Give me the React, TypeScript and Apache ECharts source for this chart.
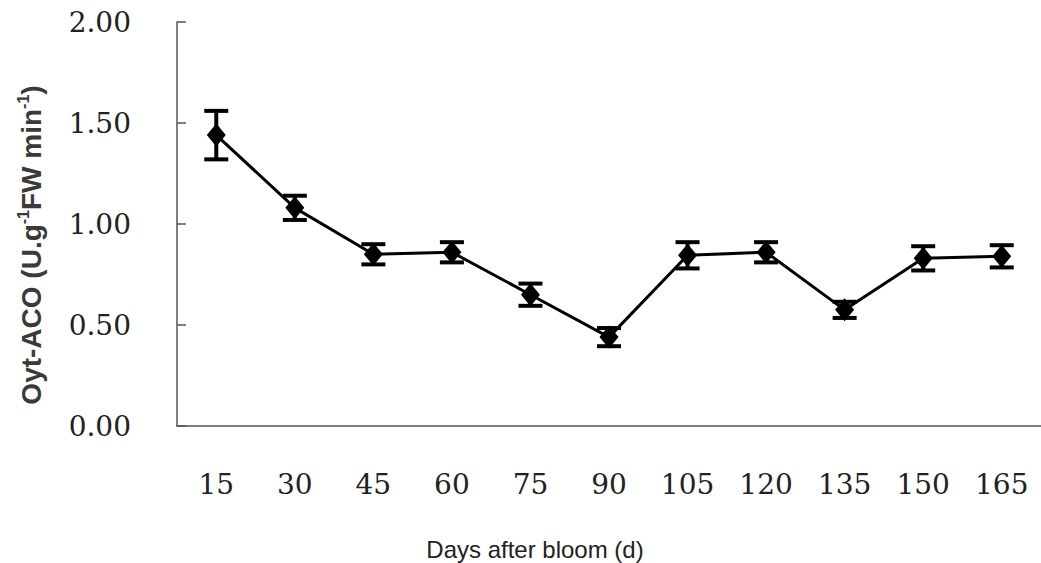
import React, { useEffect, useRef } from "react";
import * as echarts from "echarts";

const days = ["15", "30", "45", "60", "75", "90", "105", "120", "135", "150", "165"];
const meanValues = [1.44, 1.08, 0.85, 0.86, 0.65, 0.44, 0.845, 0.86, 0.575, 0.83, 0.84];
const errValues = [0.12, 0.06, 0.05, 0.05, 0.055, 0.045, 0.065, 0.05, 0.04, 0.06, 0.055];
const yTicks = [0, 0.5, 1, 1.5, 2];

export default function App() {
  const ref = useRef<HTMLDivElement>(null);
  useEffect(() => {
    if (!ref.current) return;
    const chart = echarts.init(ref.current, null, { renderer: "svg" });
    const errData = days.map((_, i) => [i, meanValues[i] - errValues[i], meanValues[i] + errValues[i]]);
    chart.setOption({
      animation: false,
      backgroundColor: "#ffffff",
      grid: { left: 177, top: 22, right: -9, bottom: 137 },
      xAxis: {
        type: "category",
        data: days,
        boundaryGap: true,
        axisLine: { lineStyle: { color: "#555", width: 1.5 } },
        axisTick: { inside: true, length: 12, lineStyle: { color: "#555", width: 1.5 } },
        axisLabel: {
          margin: 44,
          fontFamily: "DejaVu Serif",
          fontSize: 28,
          color: "#222",
        },
        splitLine: { show: false },
      },
      yAxis: {
        type: "value",
        min: yTicks[0],
        max: yTicks[yTicks.length - 1],
        interval: 0.5,
        axisLine: { show: true, lineStyle: { color: "#555", width: 1.5 } },
        axisTick: { show: true, inside: true, length: 9, lineStyle: { color: "#555", width: 1.5 } },
        axisLabel: {
          margin: 46,
          fontFamily: "DejaVu Serif",
          fontSize: 28,
          color: "#222",
          formatter: (v: number) => v.toFixed(2),
        },
        splitLine: { show: false },
      },
      graphic: [
        {
          type: "text",
          x: 31,
          y: 245,
          rotation: Math.PI / 2,
          style: {
            text: "{a|Oyt-ACO (U.g}{s|-1}{a|FW min}{s|-1}{a|)}",
            align: "center",
            verticalAlign: "middle",
            rich: {
              a: { fontFamily: "Liberation Sans", fontWeight: "bold", fontSize: 28, fill: "#3a3a3a", lineHeight: 32 },
              s: { fontFamily: "Liberation Sans", fontWeight: "bold", fontSize: 16, fill: "#3a3a3a", verticalAlign: "top", lineHeight: 32 },
            },
          },
        },
        {
          type: "text",
          x: 535,
          y: 549,
          style: {
            text: "Days after bloom (d)",
            align: "center",
            verticalAlign: "middle",
            fontFamily: "Liberation Sans",
            fontSize: 24,
            fill: "#222",
          },
        },
      ],
      series: [
        {
          type: "custom",
          data: errData,
          z: 3,
          renderItem: (params: any, api: any) => {
            const x = api.value(0);
            const lo = api.coord([x, api.value(1)]);
            const hi = api.coord([x, api.value(2)]);
            const hw = 12;
            const style = { stroke: "#000", lineWidth: 4, fill: "none" };
            return {
              type: "group",
              children: [
                { type: "line", shape: { x1: lo[0], y1: lo[1], x2: hi[0], y2: hi[1] }, style },
                { type: "line", shape: { x1: lo[0] - hw, y1: lo[1], x2: lo[0] + hw, y2: lo[1] }, style },
                { type: "line", shape: { x1: hi[0] - hw, y1: hi[1], x2: hi[0] + hw, y2: hi[1] }, style },
              ],
            };
          },
        },
        {
          type: "line",
          data: meanValues,
          z: 4,
          symbol: "diamond",
          symbolSize: [19, 23],
          itemStyle: { color: "#000" },
          lineStyle: { color: "#000", width: 3 },
        },
      ],
    });
    return () => chart.dispose();
  }, []);
  return <div ref={ref} style={{ position: "absolute", left: 0, top: 0, width: 1041, height: 563 }} />;
}
